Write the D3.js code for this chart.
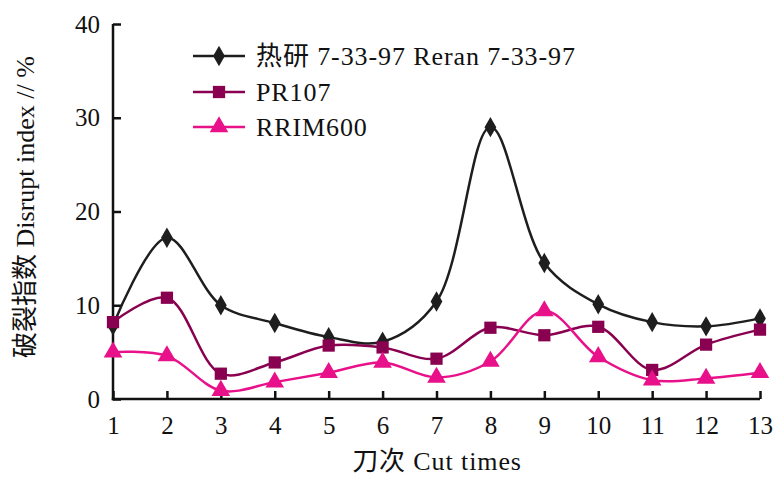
<!DOCTYPE html>
<html><head><meta charset="utf-8">
<script src="https://cdn.jsdelivr.net/npm/d3@7/dist/d3.min.js"></script>
<style>
body{margin:0;background:#fff;}
text{font-family:"Liberation Serif","Noto Sans CJK SC",serif;fill:#111;}
</style></head>
<body><svg id="c" width="779" height="479"></svg>
<script>
const cutTimes = [1,2,3,4,5,6,7,8,9,10,11,12,13];
const reran = [7.85,17.2,10.0,8.1,6.6,6.1,10.4,29.0,14.5,10.1,8.2,7.75,8.6];
const pr107 = [8.2,10.8,2.7,3.9,5.7,5.5,4.3,7.6,6.8,7.7,3.1,5.8,7.4];
const rrim600 = [5.0,4.6,0.9,1.8,2.8,3.9,2.3,4.0,9.4,4.5,2.0,2.2,2.8];
const yTicks = [0,10,20,30,40];
const seriesNames = ["热研 7-33-97 Reran 7-33-97","PR107","RRIM600"];
const seriesColors = ["#1e1e1e","#8a0050","#e8118a"];
const seriesSymbols = [d3.symbolDiamond, d3.symbolSquare, d3.symbolTriangle];
const xTitle = "刀次 Cut times";
const yTitle = "破裂指数 Disrupt index // %";

const svg = d3.select("#c");
const m = {l:113, r:19, t:24, b:80};
const W = 779, H = 479;
const x = d3.scaleLinear().domain([1,13]).range([m.l, W - m.r]);
const y = d3.scaleLinear().domain([0,40]).range([H - m.b, m.t]);

const fs = 26;
// axes
const xAxis = d3.axisBottom(x).tickValues(cutTimes).tickFormat(d3.format("d")).tickSizeInner(-8).tickSizeOuter(0).tickPadding(17);
const gx = svg.append("g").attr("transform", `translate(0,${y(0)})`).call(xAxis);
const yAxis = d3.axisLeft(y).tickValues(yTicks).tickSizeInner(-8).tickSizeOuter(0).tickPadding(13);
const gy = svg.append("g").attr("transform", `translate(${x(1)},0)`).call(yAxis);
[gx, gy].forEach(g => {
  g.select(".domain").attr("stroke","#111").attr("stroke-width",2.5);
  g.selectAll(".tick line").attr("stroke","#111").attr("stroke-width",2.5);
  g.selectAll(".tick text").attr("font-size",25).attr("font-family","Liberation Serif").attr("fill","#111");
});
gy.select(".domain").attr("d", `M0,${y(40)}V${y(0)+1.25}`);
gx.select(".domain").attr("d", `M${x(1)-1.25},0H${x(13)}`);

// lines
const line = d3.line().x((d,i)=>x(cutTimes[i])).y(d=>y(d)).curve(d3.curveCatmullRom.alpha(0.5));
const data = [reran, pr107, rrim600];
const sizes = [120, 150, 150];
data.forEach((vals, k) => {
  svg.append("path").datum(vals).attr("d", line).attr("fill","none")
    .attr("stroke", seriesColors[k]).attr("stroke-width", 2.5);
});
data.forEach((vals, k) => {
  svg.append("g").selectAll("path").data(vals).join("path")
    .attr("transform",(d,i)=>`translate(${x(cutTimes[i])},${y(d)})`)
    .attr("d", d3.symbol().type(seriesSymbols[k]).size(sizes[k]))
    .attr("fill", seriesColors[k]);
});

// legend
const legY = [56, 92, 127];
seriesNames.forEach((name,k) => {
  const g = svg.append("g").attr("transform",`translate(0,${legY[k]})`);
  g.append("line").attr("x1",193).attr("x2",245).attr("y1",0).attr("y2",0)
    .attr("stroke",seriesColors[k]).attr("stroke-width",2.5);
  g.append("path").attr("transform","translate(219,0)")
    .attr("d", d3.symbol().type(seriesSymbols[k]).size(sizes[k])).attr("fill",seriesColors[k]);
  g.append("text").attr("x",256).attr("y",9).attr("font-size",fs).attr("letter-spacing","0.9px").text(name);
});

// titles
svg.append("text").attr("x",437).attr("y",470).attr("text-anchor","middle").attr("font-size",fs).attr("letter-spacing","0.9px").text(xTitle);
svg.append("text").attr("transform","translate(34,207) rotate(-90)").attr("text-anchor","middle").attr("font-size",fs).text(yTitle);
</script></body></html>
